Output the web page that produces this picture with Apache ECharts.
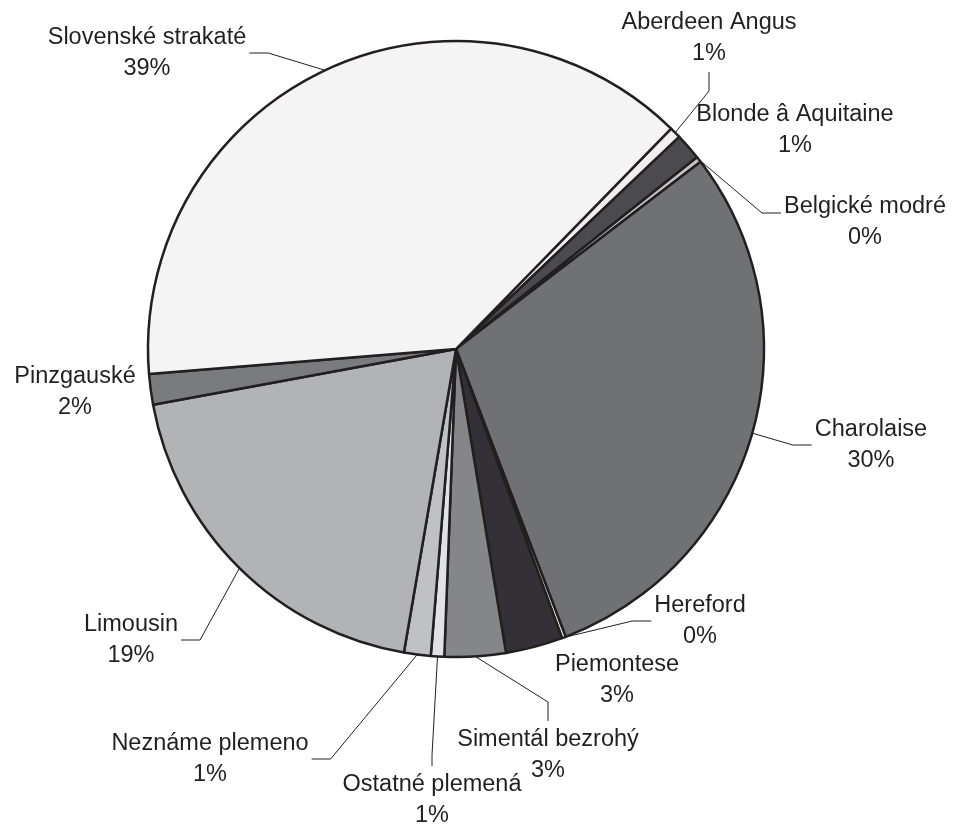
<!DOCTYPE html>
<html>
<head>
<meta charset="utf-8">
<script src="https://cdn.jsdelivr.net/npm/echarts@6/dist/echarts.min.js"></script>
<style>
  html, body { margin: 0; padding: 0; background: #ffffff; }
  #chart { width: 954px; height: 829px; }
</style>
</head>
<body>
<div id="chart"></div>
<script>
// Breeds in clockwise order, starting from the thin Aberdeen Angus slice
const breeds = [
  'Aberdeen Angus',
  'Blonde â Aquitaine',
  'Belgické modré',
  'Charolaise',
  'Hereford',
  'Piemontese',
  'Simentál bezrohý',
  'Ostatné plemená',
  'Neznáme plemeno',
  'Limousin',
  'Pinzgauské',
  'Slovenské strakaté'
];

// Share of each breed, in percent
const shares = [0.6, 1.4, 0.3, 29.6, 0.2, 3.0, 3.2, 0.7, 1.4, 19.4, 1.6, 38.6];

// Grey fill per slice
const sliceColors = [
  '#efefef', '#4b4b4d', '#c4c4c4', '#707173', '#e8e8e8', '#333135',
  '#858688', '#e1e2e4', '#c0c1c3', '#b2b3b5', '#7a7b7d', '#f4f4f4'
];

// Label block centres and the side of the block the leader line meets
const labelSpots = [
  { x: 709, y: 38,  side: 'bottom' },
  { x: 795, y: 130, side: null },
  { x: 865, y: 222, side: 'left', dy: -9 },
  { x: 871, y: 445, side: 'left' },
  { x: 700, y: 621, side: 'left' },
  { x: 617, y: 680, side: null },
  { x: 548, y: 755, side: 'top' },
  { x: 432, y: 800, side: 'top', len: 11 },
  { x: 210, y: 759, side: 'right' },
  { x: 131, y: 640, side: 'right' },
  { x: 75,  y: 392, side: null },
  { x: 147, y: 53,  side: 'right' }
];

const ink = '#231f20';

const pieData = breeds.map((name, i) => ({
  name: name,
  value: shares[i],
  itemStyle: { color: sliceColors[i] },
  labelLine: { show: !!labelSpots[i].side }
}));

const chart = echarts.init(document.getElementById('chart'), null, { renderer: 'canvas' });

chart.setOption({
  backgroundColor: '#ffffff',
  animation: false,
  series: [{
    type: 'pie',
    center: [456, 349],
    radius: 308,
    startAngle: 45.7,
    clockwise: true,
    percentPrecision: 0,
    avoidLabelOverlap: false,
    silent: true,
    itemStyle: { borderColor: ink, borderWidth: 2.5 },
    emphasis: { disabled: true },
    label: {
      show: true,
      position: 'outside',
      formatter: '{b}\n{d}%',
      fontFamily: '"Liberation Sans", Arial, sans-serif',
      fontSize: 23.5,
      lineHeight: 31,
      color: ink,
      align: 'center'
    },
    labelLine: {
      show: true,
      length: 10,
      length2: 19,
      lineStyle: { color: ink, width: 1 }
    },
    labelLayout: function (p) {
      const s = labelSpots[p.dataIndex];
      const out = { x: s.x, y: s.y, align: 'center', verticalAlign: 'middle' };
      if (s.side && p.labelLinePoints) {
        const w = p.labelRect.width;
        const h = p.labelRect.height;
        const gap = 3;
        const len = s.len || 19;
        const dy = s.dy || 0;
        let end, bend;
        if (s.side === 'left') {
          end = [s.x - w / 2 - gap, s.y + dy];
          bend = [end[0] - len, end[1]];
        } else if (s.side === 'right') {
          end = [s.x + w / 2 + gap, s.y + dy];
          bend = [end[0] + len, end[1]];
        } else if (s.side === 'top') {
          end = [s.x, s.y - h / 2 - gap];
          bend = [s.x, end[1] - len];
        } else {
          end = [s.x, s.y + h / 2 + gap];
          bend = [s.x, end[1] + len];
        }
        // start of the leader line: the slice's mid-angle point on the rim
        out.labelLinePoints = [p.labelLinePoints[0], bend, end];
      }
      return out;
    },
    data: pieData
  }]
});
</script>
</body>
</html>
